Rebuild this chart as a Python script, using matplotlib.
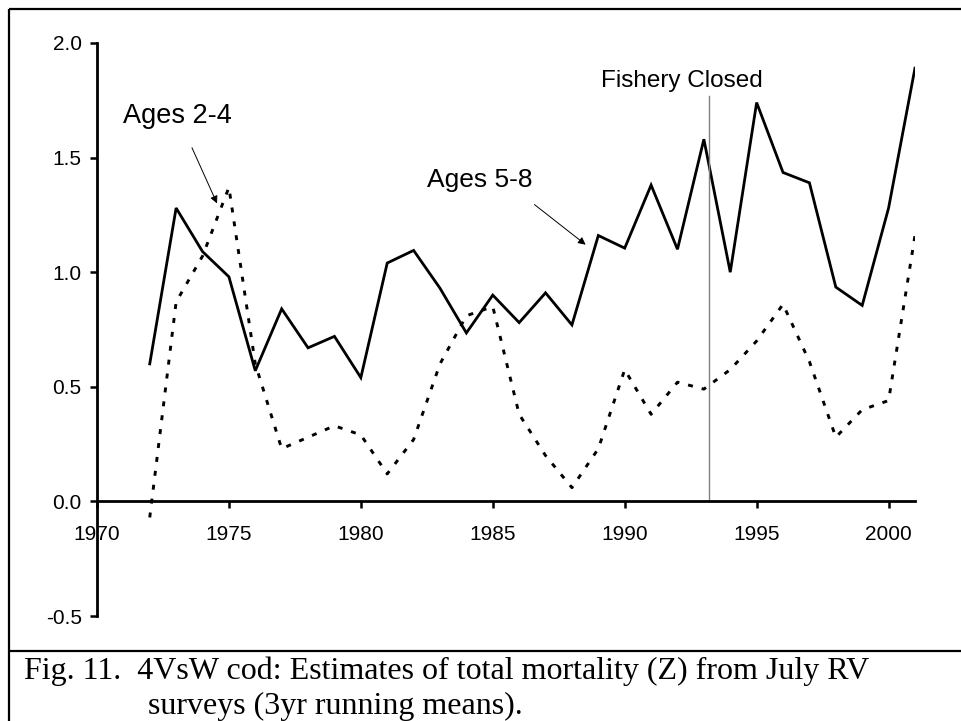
"""4VsW cod: total mortality (Z) from July RV surveys, 3yr running means."""

import matplotlib

matplotlib.use("Agg")

import matplotlib.pyplot as plt
from matplotlib.lines import Line2D


years = list(range(1972, 2002))

ages_5_8 = [
    0.60, 1.28, 1.09, 0.98, 0.57, 0.84, 0.67, 0.72, 0.54, 1.04,
    1.095, 0.93, 0.735, 0.90, 0.78, 0.91, 0.77, 1.16, 1.105, 1.38,
    1.10, 1.58, 1.00, 1.74, 1.435, 1.39, 0.935, 0.855, 1.28, 1.89,
]

ages_2_4 = [
    -0.07, 0.87, 1.07, 1.37, 0.60, 0.23, 0.28, 0.33, 0.29, 0.12,
    0.27, 0.60, 0.81, 0.85, 0.38, 0.20, 0.06, 0.23, 0.575, 0.38,
    0.52, 0.49, 0.575, 0.70, 0.86, 0.61, 0.28, 0.40, 0.44, 1.16,
]

x_ticks = [1970, 1975, 1980, 1985, 1990, 1995, 2000]
y_ticks = [-0.5, 0.0, 0.5, 1.0, 1.5, 2.0]

closure_year = 1993.2
closure_line_top = 1.77

caption_line1 = "Fig. 11.  4VsW cod: Estimates of total mortality (Z) from July RV"
caption_line2 = "surveys (3yr running means)."

SANS = "Liberation Sans"
SERIF = "Liberation Serif"

fig = plt.figure(figsize=(9.61, 7.21), dpi=100)
ax = fig.add_axes([0.1009, 0.1456, 0.8512, 0.7948])

ax.plot(years, ages_5_8, color="black", lw=2.0, solid_joinstyle="miter")
ax.plot(years, ages_2_4, color="black", lw=2.1, dashes=(1.7, 3.1))

ax.plot([closure_year, closure_year], [0, closure_line_top], color="#808080", lw=1.0)
ax.text(closure_year - 1.04, 1.809, "Fishery Closed", ha="center", va="baseline",
        fontsize=17.5, family=SANS)

ax.annotate("", xy=(1974.55, 1.30), xytext=(1973.6, 1.543),
            arrowprops=dict(arrowstyle="-|>", lw=0.7, color="black",
                            mutation_scale=11, shrinkA=0, shrinkB=0))
ax.text(1970.98, 1.652, "Ages 2-4", ha="left", va="baseline", fontsize=19.5, family=SANS)

ax.annotate("", xy=(1988.52, 1.12), xytext=(1986.58, 1.295),
            arrowprops=dict(arrowstyle="-|>", lw=0.7, color="black",
                            mutation_scale=11, shrinkA=0, shrinkB=0))
ax.text(1982.5, 1.373, "Ages 5-8", ha="left", va="baseline", fontsize=19, family=SANS)

ax.set_xlim(1970, 2001)
ax.set_ylim(-0.5, 2.0)
ax.spines["top"].set_visible(False)
ax.spines["right"].set_visible(False)
ax.spines["bottom"].set_position(("data", 0))
ax.spines["left"].set_linewidth(2.0)
ax.spines["bottom"].set_linewidth(2.0)

ax.set_xticks(x_ticks)
ax.set_xticklabels([str(y) for y in x_ticks])
ax.set_yticks(y_ticks)
ax.set_yticklabels([f"{v:.1f}" for v in y_ticks])
ax.tick_params(axis="both", direction="out", length=5, width=1.8, labelsize=15)
ax.tick_params(axis="x", pad=12)
ax.tick_params(axis="y", pad=6)
for label in ax.get_xticklabels() + ax.get_yticklabels():
    label.set_family(SANS)

# frame round the figure and the caption divider
frame = dict(color="black", lw=1.6, transform=fig.transFigure, solid_capstyle="butt")
fig.add_artist(Line2D([9 / 961, 9 / 961], [0, 1 - 9 / 721], **frame))
fig.add_artist(Line2D([9 / 961, 1], [1 - 9 / 721, 1 - 9 / 721], **frame))
fig.add_artist(Line2D([9 / 961, 1], [1 - 651 / 721, 1 - 651 / 721], **frame))

fig.text(24 / 961, 1 - 679 / 721, caption_line1, ha="left", va="baseline",
         fontsize=23, family=SERIF)
fig.text(148 / 961, 1 - 714 / 721, caption_line2, ha="left", va="baseline",
         fontsize=23, family=SERIF)

fig.savefig("out.png", dpi=100)
